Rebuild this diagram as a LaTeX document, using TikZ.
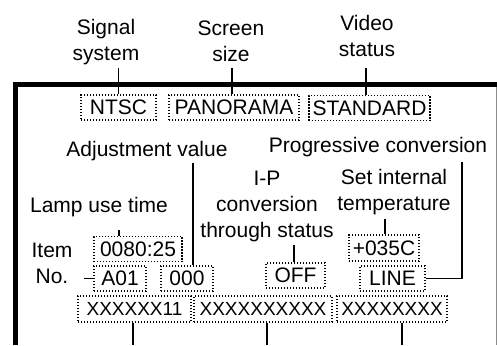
\documentclass[tikz,border=0pt]{standalone}
\usepackage{fontspec}
\setmainfont{Liberation Sans}

\begin{document}
\begin{tikzpicture}[x=1pt,y=-1pt, every node/.style={font=\fontsize{21}{26}\selectfont}]
		\tikzstyle{field}=[draw, dash pattern=on 1.3pt off 1.7pt, line width=1.2pt, inner sep=0pt, minimum height=25pt]
		\tikzstyle{xfield}=[field, font=\fontsize{19}{26}\selectfont, minimum height=26pt]
		\tikzstyle{caption}=[inner sep=0pt, text depth=0pt, align=center, anchor=south]
		\tikzstyle{lead}=[line width=1.1pt]
		\useasboundingbox (0,0) rectangle (497,345);
		
		% frame of the screen
		\draw[line width=5pt] (15.5,345) -- (15.5,84.5) -- (497,84.5);
		\draw[black!45, line width=0.8pt] (496,87) -- (496,345);
		\coordinate (bot) at (0,345);
		
		\node[field, minimum width=75pt]  (ntsc) at (118.5,107.5) {NTSC};
		\node[field, minimum width=130pt] (pano) at (234,107.5)   {PANORAMA};
		\node[field, minimum width=121pt] (std)  at (369.5,108)   {STANDARD};
		\node[field, minimum width=88pt]  (time) at (138,249)     {0080:25};
		\node[field, minimum width=70pt, minimum height=26pt] (temp) at (384,248) {+035C};
		\node[field, minimum width=52pt]  (item) at (120,278.5)   {A01};
		\node[field, minimum width=52pt]  (adj)  at (187,278.5)   {000};
		\node[field, minimum width=59pt]  (ip)   at (295.5,275.5) {OFF};
		\node[field, minimum width=65pt]  (prog) at (392.5,278.5) {LINE};
		\node[xfield, minimum width=113pt] (x1)  at (134.5,309)   {XXXXXX11};
		\node[xfield, minimum width=138pt] (x2)  at (263,309)     {XXXXXXXXXX};
		\node[xfield, minimum width=110pt] (x3)  at (392,309)     {XXXXXXXX};
		
		\node[caption] (sigl)  at (106,61)  {Signal\\system};
		\node[caption] (scrl)  at (231,62)  {Screen\\size};
		\node[caption] (vidl)  at (367,57)  {Video\\status};
		\node[caption] (adjl)  at (147,157) {Adjustment value};
		\node[caption] (progl) at (378,153) {Progressive conversion};
		\node[caption] (templ) at (394,211) {Set internal\\temperature};
		\node[caption] (ipl)   at (267,238) {I-P\\conversion\\through status};
		\node[caption] (lampl) at (99,213)  {Lamp use time};
		\node[caption] (iteml) at (52,284)  {Item\\No.};
		
		\path[lead]
		(ntsc.north)                edge [shorten >=7pt]  (ntsc.north |- sigl.south)
		([xshift=-2pt]pano.north)   edge [shorten >=6pt]  ([xshift=-2pt]pano.north |- scrl.south)
		([xshift=-3.5pt]std.north)  edge [shorten >=11pt] ([xshift=-3.5pt]std.north |- vidl.south)
		([xshift=6pt]adj.north)     edge [shorten >=6pt]  ([xshift=6pt]adj.north |- adjl.south)
		([xshift=-19pt]time.north)  edge [shorten >=17pt] ([xshift=-19pt]time.north |- lampl.south)
		([xshift=1pt]temp.north)    edge [shorten >=8pt]  ([xshift=1pt]temp.north |- templ.south)
		([xshift=-1.5pt]ip.north)   edge [shorten >=7pt]  ([xshift=-1.5pt]ip.north |- ipl.south)
		(item.west)                 edge [shorten >=11pt] (iteml.east |- item.west)
		([xshift=-1.5pt]x1.south)   edge                  ([xshift=-1.5pt]x1.south |- bot)
		([xshift=4pt]x2.south)      edge                  ([xshift=4pt]x2.south |- bot)
		([xshift=10pt]x3.south)     edge                  ([xshift=10pt]x3.south |- bot)
		;
		\draw[lead, shorten >=9pt] (prog.east) -| ([xshift=84pt]progl.south);
\end{tikzpicture}
\end{document}
